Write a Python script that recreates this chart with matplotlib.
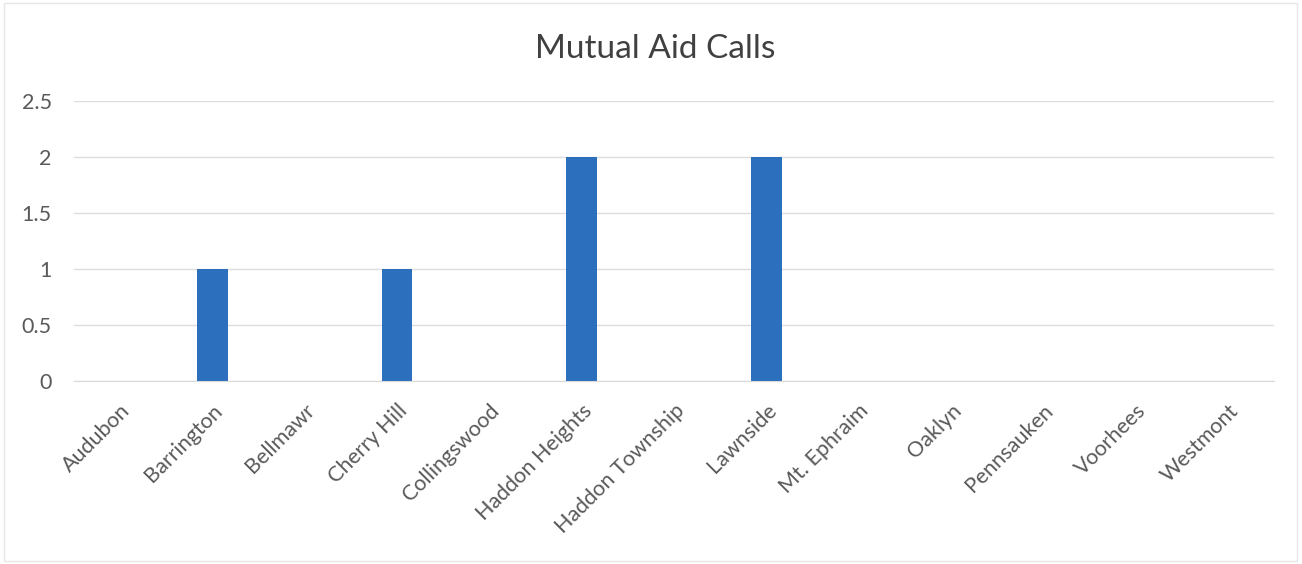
import matplotlib
matplotlib.use("Agg")
import matplotlib.pyplot as plt
from matplotlib.patches import Rectangle

categories = ["Audubon", "Barrington", "Bellmawr", "Cherry Hill", "Collingswood",
              "Haddon Heights", "Haddon Township", "Lawnside", "Mt. Ephraim",
              "Oaklyn", "Pennsauken", "Voorhees", "Westmont"]
values = [0, 1, 0, 1, 0, 2, 0, 2, 0, 0, 0, 0, 0]
yticks = [0, 0.5, 1, 1.5, 2, 2.5]
ytick_labels = ["0", "0.5", "1", "1.5", "2", "2.5"]
title = "Mutual Aid Calls"

plt.rcParams['font.family'] = ['Lato', 'DejaVu Sans']
text_color = "#595959"

fig = plt.figure(figsize=(13.02, 5.64), dpi=100)
fig.patch.set_facecolor("white")
ax = fig.add_axes([0.0568, 0.3245, 0.9217, 0.4965])

x = list(range(len(categories)))
ax.bar(x, values, width=0.33, color="#2b6fbd", zorder=3)

ax.set_xlim(-0.5, len(categories) - 0.5)
ax.set_ylim(0, 2.5)
ax.set_yticks(yticks)
ax.set_yticklabels(ytick_labels, fontsize=15.5, color=text_color)
ax.yaxis.grid(True, color="#dcdcdc", linewidth=1, zorder=0)
ax.set_xticks(x)
ax.set_xticklabels(categories, rotation=45, ha="right", va="top",
                   rotation_mode="anchor", fontsize=15.5, color=text_color)
ax.tick_params(axis="both", length=0)
ax.tick_params(axis="y", pad=16)
ax.tick_params(axis="x", pad=14)
for s in ["top", "right", "left"]:
    ax.spines[s].set_visible(False)
ax.spines["bottom"].set_color("#d9d9d9")
ax.spines["bottom"].set_zorder(4)

fig.text(0.503, 0.913, title, ha="center", va="center", fontsize=24, color="#404040")

fig.patches.append(Rectangle((0.003, 0.006), 0.993, 0.988, transform=fig.transFigure,
                             fill=False, edgecolor="#e6e6e6", linewidth=1))

fig.savefig("out.png", dpi=100, facecolor="white")
